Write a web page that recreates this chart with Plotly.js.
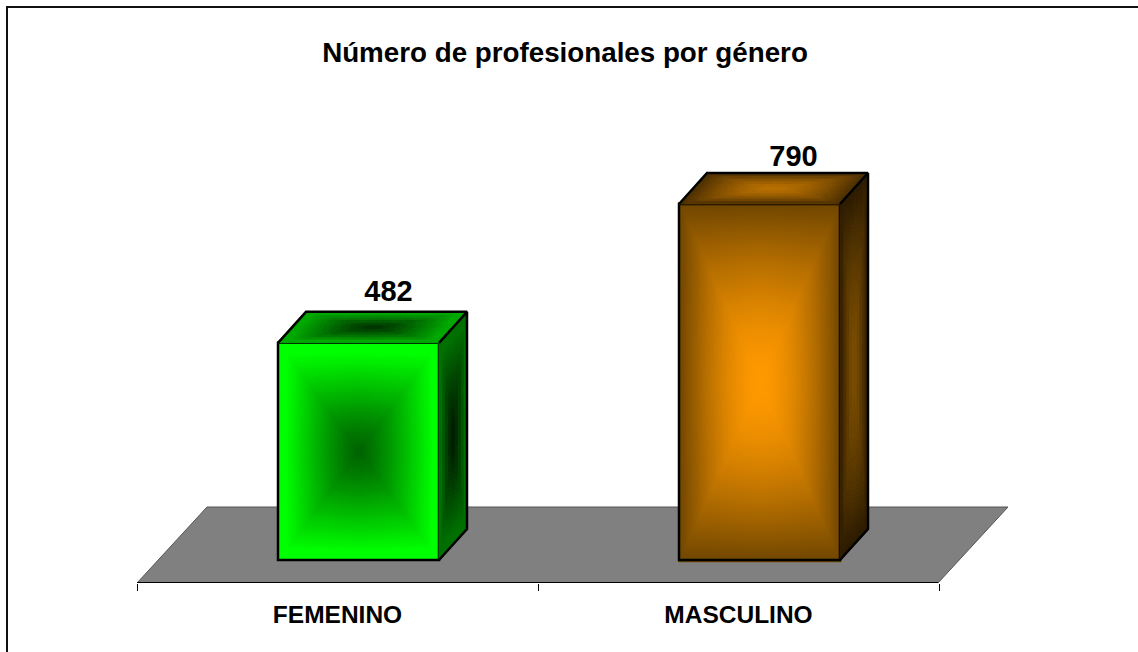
<!DOCTYPE html>
<html><head><meta charset="utf-8">
<script src="https://cdn.plot.ly/plotly-3.0.1.min.js"></script>
<style>html,body{margin:0;padding:0;background:#fff}#c{width:1138px;height:652px}</style>
</head><body><div id="c"></div>
<script>
const categories = ['FEMENINO', 'MASCULINO'];
const values = [482, 790];
const titleText = 'Número de profesionales por género';
const xPos = [0, 1];
// styling: [centre colour, rim colour] per bar, per face
const frontColors = [['#006400', '#00ff00'], ['#ff9900', '#704600']];
const topColors   = [['#003000', '#00a800'], ['#b87000', '#4a2e00']];
const sideColors  = [['#001800', '#007000'], ['#7a4d00', '#2a1a00']];
const rimGain = [1.12, 1.0];
const rimPow = [1.0, 1.35];

const W = 1138, H = 652;
const m = {l: 137, r: 130, t: 100, b: 69};
const pxX = 401, pxY = 0.4506;          // pixels per axis unit
const xRange = [-0.5, -0.5 + (W - m.l - m.r) / pxX];
const yBottom = -23 / pxY;
const yRange = [yBottom, yBottom + (H - m.t - m.b) / pxY];
const barW = 161 / pxX, barShift = 21 / pxX;
const dX = 28 / pxX, dY = 31 / pxY;       // depth of the 3-D effect
const floorBackY = 53 / pxY;
const floorBackShift = 70 / pxX;
const labelDx = [51, 55], labelDy = [49, 45];

function hex(c){return [1,3,5].map(i => parseInt(c.substr(i,2),16));}
function mix(a,b,t){const A=hex(a),B=hex(b);return 'rgb('+A.map((v,i)=>Math.round(v+(B[i]-v)*t)).join(',')+')';}
// t=0 at centre of the face, t=1 on the rim
function rim(u,v,k){
  const a=1-Math.pow(Math.abs(u),1.25), b=1-Math.pow(Math.abs(v),1.25);
  const c=Math.min(a,b)*0.8+a*b*0.2;
  return Math.min(1,Math.pow(1-c,rimPow[k])*rimGain[k]);
}
const traces=[];
const LV=32;
function scaleOf(c){const s=[];for(let i=0;i<=LV;i++){s.push([i/LV,mix(c[0],c[1],i/LV)]);}return s;}

// front faces: gradient heatmaps
xPos.forEach((x0,k)=>{
  const x1=x0+barShift-barW/2, v=values[k];
  const N=101, xs=[], ys=[], z=[];
  for(let i=0;i<N;i++){xs.push(x1+barW*i/(N-1)); ys.push(v*i/(N-1));}
  for(let j=0;j<N;j++){const r=[];for(let i=0;i<N;i++){r.push(rim(2*i/(N-1)-1,2*j/(N-1)-1,k));}z.push(r);}
  traces.push({type:'heatmap',x:xs,y:ys,z:z,zmin:0,zmax:1,zsmooth:'best',showscale:false,hoverinfo:'skip',
    colorscale:scaleOf(frontColors[k])});
});
// bar outlines carry the values
traces.push({type:'bar',x:xPos,y:values,width:barW,offset:barShift-barW/2,
  marker:{color:'rgba(0,0,0,0)',line:{color:'#000',width:2.5}},hoverinfo:'x+y',showlegend:false});

// skewed faces: mesh of small quads grouped by colour level
function meshFace(corner, ex, ey, ni, nj, cols, k){
  const bins=[];for(let l=0;l<=LV;l++)bins.push({x:[],y:[]});
  for(let i=0;i<ni;i++)for(let j=0;j<nj;j++){
    const u0=i/ni,u1=(i+1)/ni,v0=j/nj,v1=(j+1)/nj;
    const t=rim(u0+u1-1,v0+v1-1,k);
    const b=bins[Math.round(t*LV)];
    [[u0,v0],[u1,v0],[u1,v1],[u0,v1],[u0,v0]].forEach(p=>{
      b.x.push(corner[0]+ex[0]*p[0]+ey[0]*p[1]);
      b.y.push(corner[1]+ex[1]*p[0]+ey[1]*p[1]);
    });
    b.x.push(null);b.y.push(null);
  }
  bins.forEach((b,l)=>{ if(!b.x.length)return;
    const col=mix(cols[0],cols[1],l/LV);
    traces.push({type:'scatter',mode:'lines',x:b.x,y:b.y,fill:'toself',fillcolor:col,
      line:{color:col,width:1},hoverinfo:'skip',showlegend:false});
  });
}
xPos.forEach((x0,k)=>{
  const x1=x0+barShift-barW/2, x2=x1+barW, v=values[k];
  meshFace([x1,v],[barW,0],[dX,dY],48,12,topColors[k],k);
  meshFace([x2,0],[dX,dY],[0,v],10,Math.round(v/9),sideColors[k],k);
});
// outline of the skewed faces
const ox=[],oy=[];
xPos.forEach((x0,k)=>{
  const x1=x0+barShift-barW/2, x2=x1+barW, v=values[k];
  ox.push(x1,x1+dX,x2+dX,x2,null,x2+dX,x2+dX,x2,null);
  oy.push(v,v+dY,v+dY,v,null,v+dY,dY,0,null);
});
traces.push({type:'scatter',mode:'lines',x:ox,y:oy,line:{color:'#000',width:2.5},hoverinfo:'skip',showlegend:false});
// value labels
traces.push({type:'scatter',mode:'text',x:xPos.map((x,k)=>x+labelDx[k]/pxX),y:values.map((v,k)=>v+labelDy[k]/pxY),
  text:values.map(String),textposition:'middle center',
  textfont:{family:'Liberation Sans, Arial, sans-serif',size:29,color:'#000',weight:700},hoverinfo:'skip',showlegend:false});

const toPaperX=px=>(px-m.l)/(W-m.l-m.r), toPaperY=py=>(H-m.b-py)/(H-m.t-m.b);
const layout={
  width:W,height:H,margin:m,paper_bgcolor:'#fff',plot_bgcolor:'rgba(0,0,0,0)',showlegend:false,
  title:{text:'<b>'+titleText+'</b>',font:{family:'Liberation Sans, Arial, sans-serif',size:27.75,color:'#000'},
    x:565/W,xanchor:'center',y:1-52/H,yanchor:'middle'},
  xaxis:{range:xRange,tickmode:'array',tickvals:xPos,ticktext:categories,ticks:'',showgrid:false,zeroline:false,
    showline:false,fixedrange:true,ticklabelstandoff:14,
    tickfont:{family:'Liberation Sans, Arial, sans-serif',size:24.5,color:'#000',weight:700},
    minor:{tickmode:'array',tickvals:[-0.5,0.5,1.5],ticks:'outside',ticklen:7,tickwidth:1,tickcolor:'#000',showgrid:false}},
  yaxis:{range:yRange,visible:false,fixedrange:true},
  shapes:[
    {type:'path',layer:'below',xref:'x',yref:'y',
      path:`M ${xRange[0]} ${yBottom} L ${xRange[0]+floorBackShift} ${floorBackY} L ${xRange[1]} ${floorBackY} L ${xRange[1]-floorBackShift} ${yBottom} Z`,
      fillcolor:'#808080',line:{color:'#555',width:1}},
    {type:'line',layer:'below',xref:'x',yref:'y',x0:xRange[0],x1:xRange[1]-floorBackShift,y0:yBottom,y1:yBottom,line:{color:'#000',width:2}},
    {type:'path',layer:'below',xref:'paper',yref:'paper',
      path:`M ${toPaperX(7)} ${toPaperY(652)} L ${toPaperX(7)} ${toPaperY(7)} L ${toPaperX(1138)} ${toPaperY(7)}`,
      fillcolor:'rgba(0,0,0,0)',line:{color:'#111',width:2}}
  ]
};
Plotly.newPlot('c',traces,layout,{displayModeBar:false,staticPlot:true});
</script></body></html>
